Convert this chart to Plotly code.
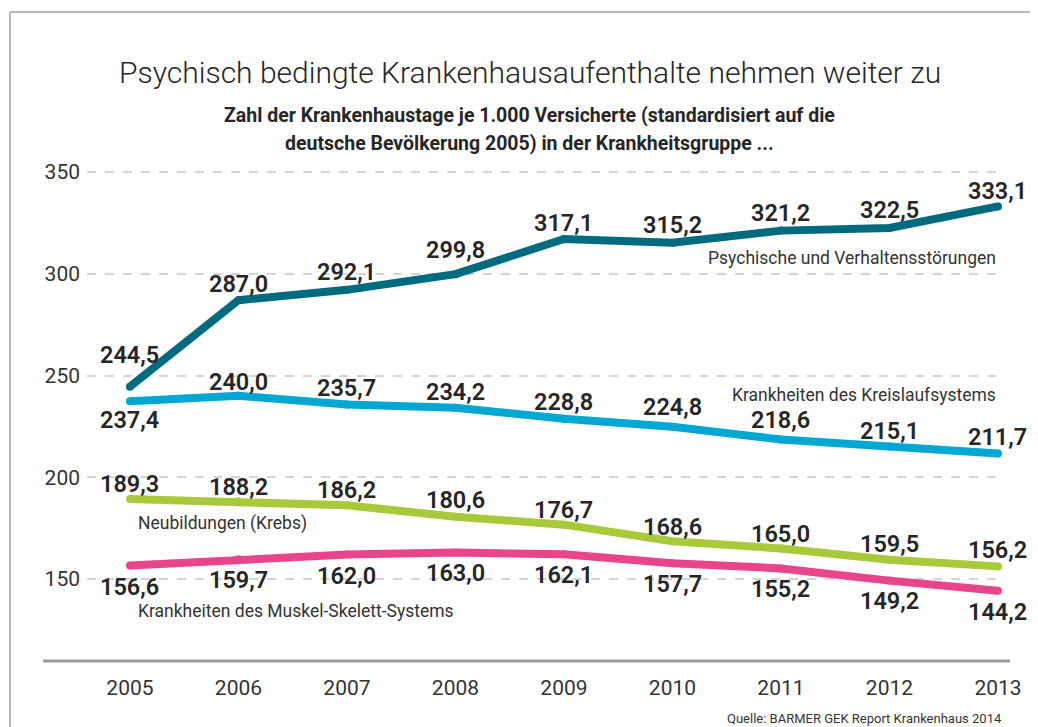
import plotly.graph_objects as go

years = [2005, 2006, 2007, 2008, 2009, 2010, 2011, 2012, 2013]

psychisch = [244.5, 287.0, 292.1, 299.8, 317.1, 315.2, 321.2, 322.5, 333.1]
kreislauf = [237.4, 240.0, 235.7, 234.2, 228.8, 224.8, 218.6, 215.1, 211.7]
krebs = [189.3, 188.2, 186.2, 180.6, 176.7, 168.6, 165.0, 159.5, 156.2]
muskel = [156.6, 159.7, 162.0, 163.0, 162.1, 157.7, 155.2, 149.2, 144.2]

series_names = [
    "Psychische und Verhaltensstörungen",
    "Krankheiten des Kreislaufsystems",
    "Neubildungen (Krebs)",
    "Krankheiten des Muskel-Skelett-Systems",
]
y_ticks = [150, 200, 250, 300, 350]

title = "Psychisch bedingte Krankenhausaufenthalte nehmen weiter zu"
subtitle_1 = "Zahl der Krankenhaustage je 1.000 Versicherte (standardisiert auf die"
subtitle_2 = "deutsche Bevölkerung 2005) in der Krankheitsgruppe ..."
source = "Quelle: BARMER GEK Report Krankenhaus 2014"

# styling / label placement (pixel shifts of the value labels)
colors = ["#006b7f", "#00a7d3", "#a7c93a", "#e8458b"]
label_shifts = [
    [32, 16, 18, 24, 16, 18, 18, 18, 15],
    [-19, 14, 17, 16, 17, 20, 19, 16, 16],
    [15, 14, 15, 17, 15, 14, 14, 16, 16],
    [-21, -21, -21, -20, -21, -21, -21, -20, -21],
]
# where the series names sit: (x, y, xanchor)
name_pos = [
    (2013.0, 307.9, "right"),
    (2013.0, 240.4, "right"),
    (2005.055, 177.4, "left"),
    (2005.055, 134.2, "left"),
]

FONT = "Roboto, 'Open Sans', sans-serif"
TEXT = "#262626"

fig = go.Figure()
all_series = [psychisch, kreislauf, krebs, muskel]

for name, vals, col in zip(series_names, all_series, colors):
    fig.add_trace(go.Scatter(
        x=years, y=vals, name=name, mode="lines+markers",
        line=dict(color=col, width=8),
        marker=dict(color=col, size=8),
        hovertemplate="%{x}: %{y:.1f}<extra>" + name + "</extra>",
    ))

annotations = []
for vals, shifts in zip(all_series, label_shifts):
    for x, v, s in zip(years, vals, shifts):
        annotations.append(dict(
            x=x, y=v, xref="x", yref="y", showarrow=False,
            text=f"{v:.1f}".replace(".", ","), yshift=s,
            xanchor="center", yanchor="middle",
            font=dict(family=FONT, size=23.5, color=TEXT, weight=600),
        ))

for name, (nx, ny, anchor) in zip(series_names, name_pos):
    annotations.append(dict(
        x=nx, y=ny, xref="x", yref="y", showarrow=False, text=name,
        xanchor=anchor, yanchor="middle",
        font=dict(family=FONT, size=17.5, color="#333333"),
    ))

annotations += [
    dict(x=0.484, y=1.202, xref="paper", yref="paper", showarrow=False,
         text=title, xanchor="center", yanchor="middle",
         font=dict(family=FONT, size=30, color=TEXT, weight=300)),
    dict(x=0.484, y=1.114, xref="paper", yref="paper", showarrow=False,
         text=subtitle_1, xanchor="center", yanchor="middle",
         font=dict(family=FONT, size=19.5, color=TEXT, weight=700)),
    dict(x=0.484, y=1.057, xref="paper", yref="paper", showarrow=False,
         text=subtitle_2, xanchor="center", yanchor="middle",
         font=dict(family=FONT, size=19.5, color=TEXT, weight=700)),
    dict(x=0.697, y=-0.118, xref="paper", yref="paper", showarrow=False,
         text=source, xanchor="left", yanchor="middle",
         font=dict(family=FONT, size=13, color="#333333")),
]

shapes = [
    # baseline
    dict(type="line", xref="paper", yref="paper", x0=-0.048, x1=1.0087,
         y0=0, y1=0, line=dict(color="#9a9a9a", width=3)),
    # frame, top and left
    dict(type="line", xref="paper", yref="paper", x0=-0.0842, x1=1.05,
         y0=1.3245, y1=1.3245, line=dict(color="#a0a0a0", width=1.5)),
    dict(type="line", xref="paper", yref="paper", x0=-0.0842, x1=-0.0842,
         y0=-0.16, y1=1.3245, line=dict(color="#a0a0a0", width=1.5)),
]

fig.update_layout(
    width=1038, height=727,
    margin=dict(l=79, r=44, t=163, b=74),
    paper_bgcolor="white", plot_bgcolor="white",
    showlegend=False,
    font=dict(family=FONT, color=TEXT),
    annotations=annotations,
    shapes=shapes,
    xaxis=dict(
        range=[2004.604, 2013.037], tickvals=years,
        showgrid=False, zeroline=False, showline=False,
        tickfont=dict(size=21, color="#333333"), ticklabelstandoff=12,
    ),
    yaxis=dict(
        range=[109.7, 350.5], tickvals=y_ticks,
        showgrid=True, gridcolor="#d4d4d4", gridwidth=2, griddash="dash",
        zeroline=False, showline=False,
        tickfont=dict(size=21, color="#333333"), ticklabelstandoff=6,
    ),
)

fig.write_html("out.html")
